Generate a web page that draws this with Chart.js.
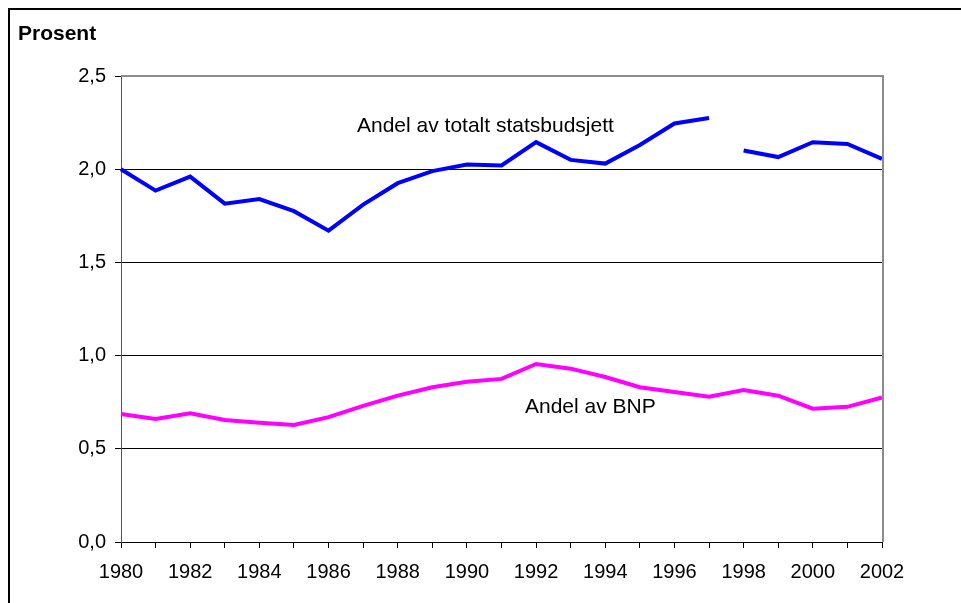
<!DOCTYPE html>
<html>
<head>
<meta charset="utf-8">
<script src="https://cdn.jsdelivr.net/npm/chart.js@4"></script>
<style>
  html, body { margin: 0; padding: 0; overflow: hidden; background: #fff; }
  #ramme { position: absolute; left: 8px; top: 8px; width: 1000px; height: 700px; border: 2px solid #000; }
  #wrap { position: absolute; left: 0; top: 0; width: 961px; height: 603px; }
</style>
</head>
<body>
<div id="ramme"></div>
<div id="wrap"><canvas id="graf" width="961" height="603"></canvas></div>
<script>
// År og verdier (prosent)
const aar = ['1980','1981','1982','1983','1984','1985','1986','1987','1988','1989','1990',
             '1991','1992','1993','1994','1995','1996','1997','1998','1999','2000','2001','2002'];

const statsbudsjett = [2.00, 1.885, 1.96, 1.815, 1.84, 1.775, 1.67, 1.81, 1.925, 1.99, 2.025,
                       2.02, 2.145, 2.05, 2.03, 2.13, 2.245, 2.275, 2.10, 2.065, 2.145, 2.135, 2.055];

const bnp = [0.687, 0.66, 0.69, 0.655, 0.64, 0.628, 0.67, 0.73, 0.785, 0.83, 0.86,
             0.875, 0.955, 0.93, 0.885, 0.83, 0.805, 0.78, 0.815, 0.785, 0.715, 0.725, 0.775];

// brudd i serien mellom 1997 og 1998
const bruddEtter = aar.indexOf('1997');

const yTicks = [0, 0.5, 1.0, 1.5, 2.0, 2.5];

const FONT = 'Arial, "Liberation Sans", sans-serif';

// tekster i plottet og ramme rundt plottområdet
const ekstra = {
    id: 'ekstra',
    afterDraw(chart) {
        const c = chart.ctx;
        const a = chart.chartArea;
        const ys = chart.scales.y;
        c.save();
        c.strokeStyle = '#8c8c8c';
        c.lineWidth = 2;
        c.beginPath();
        c.moveTo(a.left, a.top);
        c.lineTo(a.right + 1, a.top);
        c.lineTo(a.right + 1, a.bottom);
        c.stroke();

        c.fillStyle = '#000';
        c.font = 'bold 21px ' + FONT;
        c.textBaseline = 'middle';
        c.textAlign = 'left';
        c.fillText('Prosent', 18, 34);

        c.font = '21px ' + FONT;
        c.fillText('Andel av totalt statsbudsjett', 357, ys.getPixelForValue(2.23));
        c.fillText('Andel av BNP', 525, ys.getPixelForValue(0.725));
        c.restore();
    }
};

new Chart(document.getElementById('graf'), {
    type: 'line',
    data: {
        labels: aar,
        datasets: [{
            label: 'Andel av totalt statsbudsjett',
            data: statsbudsjett,
            borderColor: '#0000ff',
            borderWidth: 4,
            pointRadius: 0,
            tension: 0,
            segment: {
                borderColor: ctx => ctx.p0DataIndex === bruddEtter ? 'rgba(0,0,0,0)' : '#0000ff'
            }
        }, {
            label: 'Andel av BNP',
            data: bnp,
            borderColor: '#ff00ff',
            borderWidth: 4,
            pointRadius: 0,
            tension: 0
        }]
    },
    options: {
        responsive: false,
        animation: false,
        layout: { padding: { left: 0, top: 76, right: 79, bottom: 0 } },
        plugins: {
            legend: { display: false },
            tooltip: { enabled: false }
        },
        scales: {
            x: {
                offset: false,
                grid: { drawOnChartArea: false, drawTicks: true, tickLength: 6, color: '#000' },
                border: { display: true, color: '#000', width: 1 },
                ticks: {
                    color: '#000',
                    font: { family: FONT, size: 20 },
                    maxRotation: 0,
                    autoSkip: false,
                    padding: 12,
                    callback: function (v, i) { return i % 2 === 0 ? aar[i] : ''; }
                },
                afterFit: s => { s.height = 61; }
            },
            y: {
                min: 0,
                max: 2.5,
                afterBuildTicks: s => { s.ticks = yTicks.map(v => ({ value: v })); },
                grid: { color: '#000', lineWidth: 1, drawTicks: true, tickLength: 6 },
                border: { display: true, color: '#555', width: 1 },
                ticks: {
                    color: '#000',
                    font: { family: FONT, size: 20 },
                    padding: 9,
                    callback: v => v.toFixed(1).replace('.', ',')
                },
                afterFit: s => { s.width = 121; }
            }
        }
    },
    plugins: [ekstra]
});
</script>
</body>
</html>
